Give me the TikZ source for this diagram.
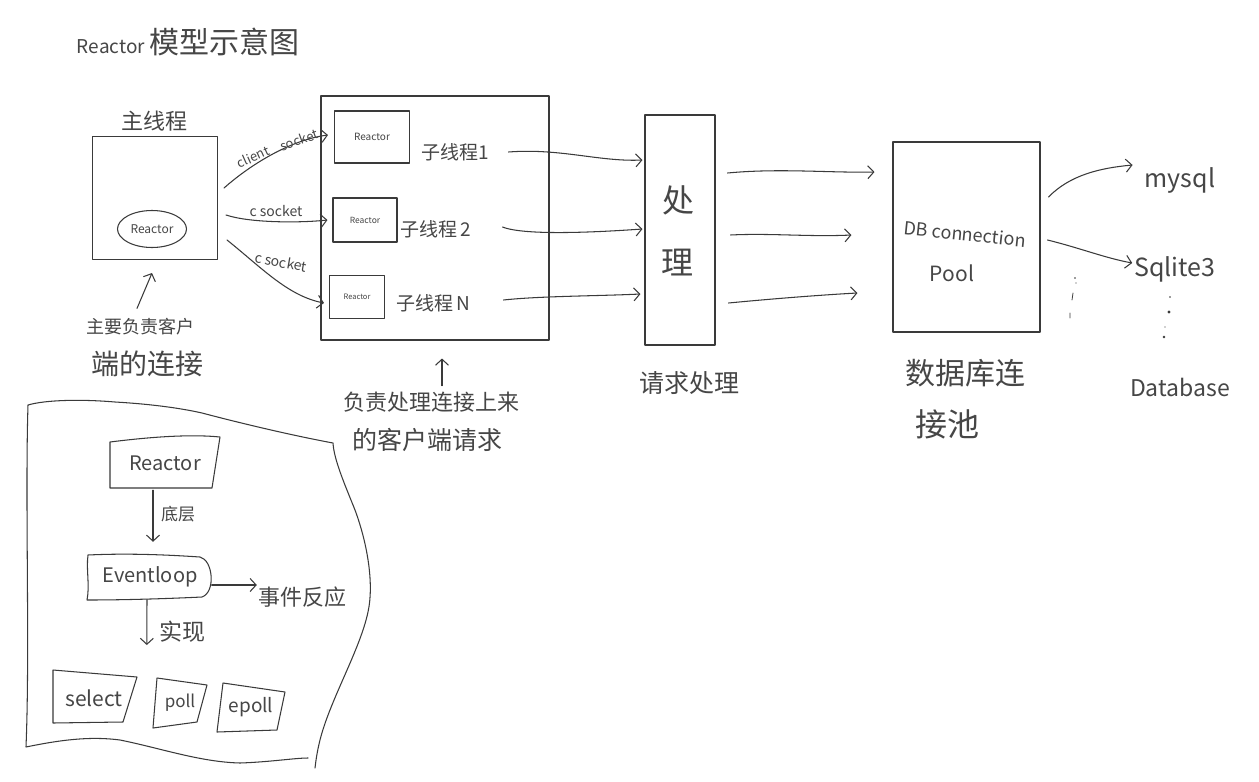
\documentclass[tikz,border=0pt]{standalone}
\usepackage{fontspec}
\newfontfamily\cjk{Noto Sans CJK SC}
\usetikzlibrary{arrows.meta,shapes.geometric}
\definecolor{inkc}{HTML}{3a3a3a}
\definecolor{txtc}{HTML}{464646}
\newcommand\fsz[1]{\fontsize{#1}{#1}\selectfont}

\begin{document}
\begin{tikzpicture}[x=1pt,y=-1pt,
  ink/.style={draw=inkc, line width=1.05pt, line join=round, line cap=round},
  arr/.style={ink, -{Straight Barb[length=6pt,width=13pt]}},
  lbl/.style={text=txtc, font=\cjk, inner sep=0pt},
  box/.style={ink, rectangle, inner sep=0pt},
  ghost/.style={rectangle, inner sep=0pt, text=txtc, font=\cjk},
]
\useasboundingbox[fill=white] (0,0) rectangle (1259,782);

% title
\node[lbl] (title) at (188,42) {{\fsz{19}Reactor}\hspace{4pt}{\fsz{30}模型示意图}};

% ---------------- main thread ----------------
\node[box, minimum width=125pt, minimum height=123pt] (main) at (155,198) {};
\node[lbl] (mainT) at (154,121) {\fsz{22}主线程};
\node[ink, ellipse, minimum width=69pt, minimum height=37pt, inner sep=0pt,
      text=txtc, font={\cjk\fsz{12}}] (mr) at (152,229) {Reactor};
\node[lbl] (note1a) at (140,327) {\fsz{18}主要负责客户};
\node[lbl] (note1b) at (147,364) {\fsz{28}端的连接};
\draw[arr] ([xshift=-3pt,yshift=10pt]note1a.north) -- ([xshift=-3pt,yshift=-13pt]main.south);

% ---------------- sub threads ----------------
\node[box, minimum width=228pt, minimum height=244pt] (sub) at (435,218) {};
\node[box, minimum width=75pt, minimum height=52pt, text=txtc, font={\cjk\fsz{10}}] (r1) at (372,137) {Reactor};
\node[box, minimum width=64pt, minimum height=44pt, text=txtc, font={\cjk\fsz{8.5}}] (r2) at (365,220) {Reactor};
\node[box, minimum width=55pt, minimum height=43pt, text=txtc, font={\cjk\fsz{7.5}}] (r3) at (357,297) {Reactor};
\node[lbl] (t1) at (455,152) {\fsz{19}子线程1};
\node[lbl] (t2) at (436,229) {\fsz{19}子线程\,2};
\node[lbl] (t3) at (433,303) {\fsz{19}子线程\,N};

\draw[arr] ([xshift=6pt,yshift=10pt]main.east) .. controls (250,165) and (290,140) .. ([xshift=-6pt,yshift=2pt]r1.west);
\draw[arr] ([xshift=8pt,yshift=-17pt]main.east) .. controls (250,223) and (300,223) .. ([xshift=-5pt]r2.west);
\draw[arr] ([xshift=9pt,yshift=-42pt]main.east) .. controls (262,268) and (288,296) .. ([xshift=-5pt,yshift=-6pt]r3.west);
\node[lbl, rotate=24] (s1a) at (253,157) {\fsz{13}client};
\node[lbl, rotate=20] (s1b) at (299,140) {\fsz{13}socket};
\node[lbl] (s2) at (276,211) {\fsz{14}c socket};
\node[lbl, rotate=-10] (s3) at (281,262) {\fsz{14}c socket};

\node[lbl] (note2a) at (431,402) {\fsz{22}负责处理连接上来};
\node[lbl] (note2b) at (427,440) {\fsz{25}的客户端请求};
\draw[arr] ([xshift=11pt,yshift=6pt]note2a.north) -- ([xshift=7pt,yshift=-18pt]sub.south);

% ---------------- request processing ----------------
\node[box, minimum width=70pt, minimum height=230pt] (proc) at (680,230) {};
\node[lbl] (procA) at (678,200) {\fsz{32}处};
\node[lbl] (procB) at (677,263) {\fsz{32}理};
\node[lbl] (procT) at (689,383) {\fsz{25}请求处理};

\draw[arr] ([xshift=-41pt,yshift=66pt]sub.east) .. controls (560,148) and (600,162) .. ([xshift=-2pt,yshift=70pt]proc.west);
\draw[arr] ([xshift=-47pt,yshift=-9pt]sub.east) .. controls (525,236) and (600,232) .. ([xshift=-2pt,yshift=1pt]proc.west);
\draw[arr] ([xshift=-46pt,yshift=-82pt]sub.east) .. controls (540,296) and (600,296) .. ([xshift=-4pt,yshift=-64pt]proc.west);

% ---------------- connection pool ----------------
\node[box, minimum width=147pt, minimum height=190pt] (db) at (966.5,237) {};
\node[lbl, rotate=-6] (dbT1) at (965,234) {\fsz{18}DB connection};
\node[lbl] (dbT2) at (952,273) {\fsz{21}Pool};
\node[lbl] (dbN1) at (965,373) {\fsz{30}数据库连};
\node[lbl] (dbN2) at (947,424) {\fsz{32}接池};

\draw[arr] ([xshift=12pt,yshift=57pt]proc.east) .. controls (780,168) and (830,173) .. ([xshift=-18pt,yshift=65pt]db.west);
\draw[arr] ([xshift=15pt,yshift=-5pt]proc.east) .. controls (770,233) and (810,237) .. ([xshift=-41pt,yshift=2pt]db.west);
\draw[arr] ([xshift=13pt,yshift=-73pt]proc.east) .. controls (770,299) and (820,295) .. ([xshift=-35pt,yshift=-56pt]db.west);

% ---------------- databases ----------------
\node[lbl] (mysql) at (1180,180) {\fsz{25}mysql};
\node[lbl] (sqlite) at (1175,269) {\fsz{25}Sqlite3};
\node[lbl] (dbase) at (1180,387) {\fsz{23}Database};
\draw[arr] ([xshift=8pt,yshift=40pt]db.east) .. controls (1070,175) and (1100,168) .. ([xshift=-12pt,yshift=15pt]mysql.west);
\draw[arr] ([xshift=7pt,yshift=-3pt]db.east) .. controls (1080,248) and (1105,258) .. ([xshift=-2pt,yshift=6pt]sqlite.west);

\fill[inkc] (1075,278) circle (0.8) (1076,283) circle (0.6) (1170,297) circle (0.9)
            (1169,312) circle (1.6) (1165,327) circle (0.7) (1164,337) circle (1.3);
\draw[ink, line width=0.8pt] (1073,293) -- (1072,300) (1070,313) -- (1070,318);

% ---------------- reactor structure panel ----------------
\draw[ink] (308,758) .. controls (295,758) and (270,762) .. (240,763)
  .. controls (200,762) and (160,748) .. (120,740)
  .. controls (90,736) and (60,740) .. (26,747)
  .. controls (30,650) and (25,500) .. (28,405)
  .. controls (45,400) and (80,399) .. (115,402)
  .. controls (150,404) and (180,408) .. (202,413)
  .. controls (240,423) and (290,435) .. (333,443)
  .. controls (334,460) and (345,485) .. (355,510)
  .. controls (368,545) and (374,585) .. (368,612)
  .. controls (360,650) and (330,700) .. (320,740)
  .. controls (317,752) and (316,760) .. (315,768);

\node[ghost, minimum width=110pt, minimum height=50pt, font={\cjk\fsz{20}}] (rb) at (165,463) {Reactor};
\draw[ink] (110,442) .. controls (150,437) and (190,434) .. (220,437) -- (212,488) -- (110,488) -- cycle;

\node[ghost, minimum width=125pt, minimum height=45pt, font={\cjk\fsz{20}}] (evl) at (150,577) {Eventloop};
\draw[ink] (88,555) .. controls (130,553) and (170,555) .. (200,557)
  .. controls (213,560) and (216,592) .. (202,597)
  .. controls (160,599) and (120,600) .. (87,600)
  .. controls (90,585) and (86,570) .. (88,555) -- cycle;

\node[lbl] (lower) at (178,514) {\fsz{17}底层};
\draw[arr] ([xshift=-12pt,yshift=-2pt]rb.south) -- ([xshift=3pt,yshift=12.5pt]evl.north);

\node[lbl] (evT) at (302,597) {\fsz{22}事件反应};
\draw[arr] ([xshift=-1pt,yshift=-8pt]evl.east) -- ([xshift=-1pt,yshift=12pt]evT.west);

\node[lbl] (impl) at (182,632) {\fsz{23}实现};
\draw[arr] ([xshift=-3pt]evl.south) -- ([xshift=-12pt,yshift=-13pt]impl.west);

\node[lbl] (sel) at (94,698) {\fsz{21}select};
\draw[ink] (53,670) -- (137,677) -- (123,722) -- (53,723) -- cycle;
\node[lbl] (pol) at (180,703) {\fsz{17}poll};
\draw[ink] (157,678) -- (207,685) -- (197,722) -- (153,728) -- cycle;
\node[lbl] (ep) at (251,707) {\fsz{19}epoll};
\draw[ink] (223,683) -- (285,692) -- (277,730) -- (217,732) -- cycle;
\end{tikzpicture}
\end{document}
